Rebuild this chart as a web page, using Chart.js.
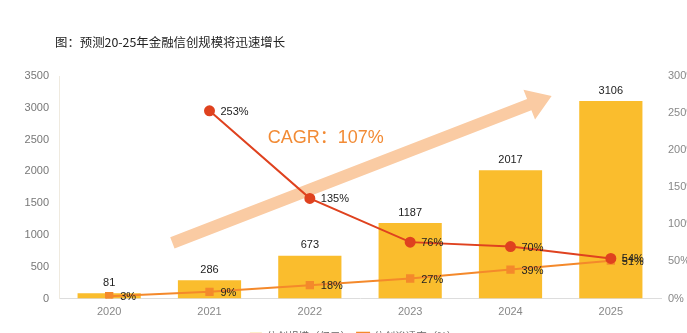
<!DOCTYPE html>
<html><head><meta charset="utf-8">
<script src="https://cdn.jsdelivr.net/npm/chart.js@4/dist/chart.umd.min.js"></script>
<style>
html,body{margin:0;padding:0;background:#fff;overflow:hidden;}
#wrap{position:relative;width:687px;height:352px;}
#title{position:absolute;left:55px;top:33px;font:12.4px "Noto Sans CJK SC",sans-serif;color:#222;white-space:nowrap;}
canvas{position:absolute;left:0;top:0;}
</style></head><body>
<div id="wrap"><canvas id="c" width="687" height="352" style="width:687px;height:352px"></canvas><div id="title">图：预测20-25年金融信创规模将迅速增长</div></div>
<script>
const years = ['2020','2021','2022','2023','2024','2025'];
const scaleValues = [81, 286, 673, 1187, 2017, 3106];
const growthRates = [null, 253, 135, 76, 70, 54];
const penetration = [3, 9, 18, 27, 39, 51];
const legendNames = ['信创规模（亿元）', '信创增速（右轴）', '信创渗透率（%）'];
const cagrLabel = 'CAGR：107%';
// arrow annotation anchored in data space: [categoryIndex, leftAxisValue]
const arrowFrom = [0.63, 875];
const arrowTo = [4.41, 3187];
const cagrAnchor = [1.58, 2531];

const FONT = '"Liberation Sans","Noto Sans CJK SC",sans-serif';

const labelPlugin = {
  id: 'labels',
  beforeDatasetsDraw(chart) {
    const ctx = chart.ctx, x = chart.scales.x, y = chart.scales.y;
    const x0 = x.getPixelForValue(arrowFrom[0]), y0 = y.getPixelForValue(arrowFrom[1]);
    const x1 = x.getPixelForValue(arrowTo[0]), y1 = y.getPixelForValue(arrowTo[1]);
    const ang = Math.atan2(y1 - y0, x1 - x0);
    const len = Math.hypot(x1 - x0, y1 - y0);
    const hw = 6, headW = 16, headL = 24;
    ctx.save();
    ctx.translate(x0, y0); ctx.rotate(ang);
    ctx.fillStyle = '#FACBA3';
    ctx.beginPath();
    ctx.moveTo(0, -hw); ctx.lineTo(len - headL, -hw); ctx.lineTo(len - headL, -headW);
    ctx.lineTo(len, 0); ctx.lineTo(len - headL, headW); ctx.lineTo(len - headL, hw); ctx.lineTo(0, hw);
    ctx.closePath(); ctx.fill();
    ctx.restore();
    ctx.save();
    ctx.fillStyle = '#F28B35';
    ctx.font = '18px ' + FONT;
    ctx.textBaseline = 'middle'; ctx.textAlign = 'left';
    ctx.fillText(cagrLabel, x.getPixelForValue(cagrAnchor[0]), y.getPixelForValue(cagrAnchor[1]));
    ctx.restore();
  },
  afterDatasetsDraw(chart) {
    const ctx = chart.ctx;
    ctx.save();
    ctx.font = '11px ' + FONT;
    ctx.fillStyle = '#222';
    const barMeta = chart.getDatasetMeta(0);
    barMeta.data.forEach((el, i) => {
      ctx.textAlign = 'center'; ctx.textBaseline = 'bottom';
      ctx.fillText(String(scaleValues[i]), el.x, el.y - 5);
    });
    [[2, penetration], [1, growthRates]].forEach(([di, arr]) => {
      const meta = chart.getDatasetMeta(di);
      meta.data.forEach((el, i) => {
        if (arr[i] == null) return;
        ctx.textAlign = 'left'; ctx.textBaseline = 'middle';
        ctx.fillText(arr[i] + '%', el.x + 11, el.y + 1);
      });
    });
    ctx.restore();
  }
};

new Chart(document.getElementById('c'), {
  data: {
    labels: years,
    datasets: [
      { type: 'bar', label: legendNames[0], data: scaleValues, yAxisID: 'y', backgroundColor: '#FABD2D',
        categoryPercentage: 0.7, barPercentage: 0.9, order: 3 },
      { type: 'line', label: legendNames[1], data: growthRates, yAxisID: 'y1', borderColor: '#DF421F', backgroundColor: '#DF421F',
        borderWidth: 2, pointRadius: 4.5, pointStyle: 'circle', tension: 0, order: 1 },
      { type: 'line', label: legendNames[2], data: penetration, yAxisID: 'y1', borderColor: '#F4892B', backgroundColor: '#FBC79A',
        pointBackgroundColor: '#F4892B', pointBorderColor: '#F4892B',
        borderWidth: 2, pointRadius: 4.5, pointStyle: 'rect', tension: 0, order: 2 }
    ]
  },
  options: {
    responsive: false, animation: false, devicePixelRatio: 1,
    layout: { padding: { left: 20, right: 0, top: 76, bottom: 0 } },
    plugins: {
      title: { display: false }, tooltip: { enabled: false },
      legend: { position: 'bottom', labels: { font: { size: 10.5, family: FONT }, color: '#666', boxWidth: 12, boxHeight: 8, padding: 6,
        sort: (a, b) => a.datasetIndex - b.datasetIndex,
        filter: (item) => item.datasetIndex !== 1 } }
    },
    scales: {
      x: { grid: { display: false, drawTicks: false }, border: { display: true, color: '#DDDDDD' },
           ticks: { color: '#888', font: { size: 11, family: FONT }, padding: 7 },
           afterFit: (s) => { s.height = 27; } },
      y: { position: 'left', min: 0, max: 3500, grid: { display: false, drawTicks: false },
           border: { display: true, color: '#EFEADF' },
           ticks: { stepSize: 500, color: '#777', font: { size: 11, family: FONT }, padding: 10, callback: (v) => String(v) },
           afterFit: (s) => { s.width = 39; } },
      y1: { position: 'right', min: 0, max: 300, grid: { display: false, drawTicks: false },
            border: { display: false },
            ticks: { stepSize: 50, color: '#888', font: { size: 11, family: FONT }, padding: 7, callback: (v) => v + '%' },
            afterFit: (s) => { s.width = 26; } }
    }
  },
  plugins: [labelPlugin]
});
</script>
</body></html>
